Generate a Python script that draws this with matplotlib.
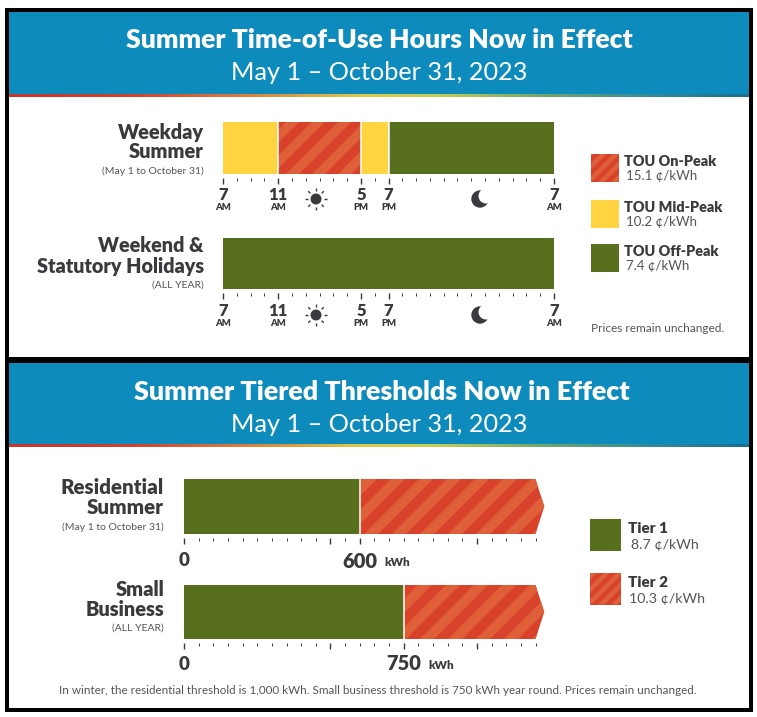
import numpy as np
import matplotlib
matplotlib.use("Agg")
import matplotlib.pyplot as plt
from matplotlib.patches import Rectangle, Circle, Polygon
from matplotlib.colors import LinearSegmentedColormap

# ---------- data ----------
hours_ticks_major = [0, 4, 10, 12, 24]
hour_labels = ["7", "11", "5", "7", "7"]
hour_suffix = ["AM", "AM", "PM", "PM", "AM"]
weekday_segments = [(0, 4, "mid"), (4, 10, "on"), (10, 12, "mid"), (12, 24, "off")]
weekend_segments = [(0, 24, "off")]
residential_threshold = 600
business_threshold = 750
kwh_end = 1200
kwh_major = [0, 500, 600, 1000]
business_major = [0, 500, 750, 1000]
tou_names = ["TOU On-Peak", "TOU Mid-Peak", "TOU Off-Peak"]
tou_prices = ["15.1 ¢/kWh", "10.2 ¢/kWh", "7.4 ¢/kWh"]
tier_names = ["Tier 1", "Tier 2"]
tier_prices = ["8.7 ¢/kWh", "10.3 ¢/kWh"]

RED, STRIPE, YEL, GRN, BLUE, DARK, GREY = "#D8412A", "#DF6038", "#FFD440", "#586F1E", "#0C8BBC", "#3A3A3C", "#555558"
W, H = 757, 717
FONT = "Lato"

fig = plt.figure(figsize=(W / 100, H / 100), dpi=100, facecolor="white")
bg = fig.add_axes([0, 0, 1, 1])
bg.set_xlim(0, W); bg.set_ylim(H, 0); bg.axis("off")


def txt(x, y, s, size, bold=False, color=DARK, ha="left"):
    bg.text(x, y, s, fontsize=size, family=FONT, color=color, ha=ha, va="center",
            fontweight="heavy" if bold else "normal", zorder=6)


def stripes(ax, patch, x0, x1, y0, y1, period, width):
    n0 = x0 - (y1 - y0) - period
    for sx in np.arange(n0 - (n0 % period), x1 + period, period):
        poly = Polygon([(sx, y1), (sx + width, y1), (sx + width + (y1 - y0), y0), (sx + (y1 - y0), y0)],
                       closed=True, fc=STRIPE, ec="none", transform=bg.transData, zorder=patch.get_zorder() + 0.1)
        ax.add_patch(poly)
        poly.set_clip_box(None)
        poly.set_clip_path(patch)


def inset(px0, px1, py0, py1, xlim):
    ax = fig.add_axes([px0 / W, 1 - py1 / H, (px1 - px0) / W, (py1 - py0) / H])
    ax.set_xlim(*xlim); ax.set_ylim(0, 1)
    ax.patch.set_alpha(0)
    for s in ["top", "left", "right"]:
        ax.spines[s].set_visible(False)
    ax.spines["bottom"].set_position(("outward", 3.2))
    ax.spines["bottom"].set_visible(False)
    ax.set_yticks([])
    return ax


# frames and headers
bg.add_patch(Rectangle((5, 8), 748, 704, fc="black", ec="none", zorder=1))
grad = LinearSegmentedColormap.from_list(
    "g", [(0, "#C8352F"), (0.16, "#CF4030"), (0.32, "#D9803F"), (0.48, "#DDCB4B"), (0.58, "#C2CE55"),
          (0.72, "#6FA86F"), (0.88, "#2E88A0"), (1, "#19708F")])
for (top, hb, bot) in [(12, 94, 357), (363, 444, 708)]:
    bg.add_patch(Rectangle((9, top), 740, bot - top, fc="white", ec="none", zorder=2))
    bg.add_patch(Rectangle((9, top), 740, hb - top, fc=BLUE, ec="none", zorder=3))
    bg.imshow(np.linspace(0, 1, 256)[None, :], cmap=grad, extent=(9, 749, hb + 3, hb), aspect="auto", zorder=3)
bg.set_xlim(0, W); bg.set_ylim(H, 0)

txt(379, 40, "Summer Time-of-Use Hours Now in Effect", 19.2, True, "white", "center")
txt(379, 72.5, "May 1 – October 31, 2023", 18.2, False, "white", "center")
txt(382, 392, "Summer Tiered Thresholds Now in Effect", 19.4, True, "white", "center")
txt(379, 424.5, "May 1 – October 31, 2023", 18.2, False, "white", "center")

# row labels
for x, y, a, b, c, sz in [(204, 132, "Weekday", "Summer", "(May 1 to October 31)", 14.3),
                          (204, 246, "Weekend &", "Statutory Holidays", "(ALL YEAR)", 14.2),
                          (164, 488, "Residential", "Summer", "(May 1 to October 31)", 14.8),
                          (164, 589, "Small", "Business", "(ALL YEAR)", 14.4)]:
    txt(x, y, a, sz, True, ha="right")
    txt(x, y + 20, b, sz, True, ha="right")
    txt(x, y + 39.5, c, 7.45, color=GREY, ha="right")


def sun(cx, cy):
    bg.add_patch(Circle((cx, cy), 5.5, fc=DARK, ec="none", zorder=6))
    for a in np.arange(0, 360, 45):
        c, s = np.cos(np.radians(a)), np.sin(np.radians(a))
        bg.plot([cx + 8 * c, cx + 11 * c], [cy + 8 * s, cy + 11 * s], color=DARK, lw=1, zorder=6, solid_capstyle="butt")


def moon(cx, cy):
    bg.add_patch(Circle((cx, cy), 8.7, fc=DARK, ec="none", zorder=6))
    bg.add_patch(Circle((cx + 6, cy - 3), 7.5, fc="white", ec="none", zorder=6.5))


# TOU rows
for segs, (py0, py1), lab_y in [(weekday_segments, (122, 174), 195), (weekend_segments, (238, 289), 311)]:
    ax = inset(223, 554, py0, py1, (0, 24))
    colors = {"mid": YEL, "off": GRN, "on": RED}
    for a, b, k in segs:
        bar = ax.barh(0.5, b - a, left=a, height=1, color=colors[k], ec="none", zorder=2)[0]
        if k == "on":
            px = lambda h: 223 + h * 331 / 24
            stripes(ax, bar, px(a), px(b), py0, py1, 26, 13)
    for a, b, k in segs[1:]:
        ax.axvline(a, color="white", lw=1.1, zorder=4)
    ax.set_xticks(hours_ticks_major)
    ax.set_xticks(np.arange(0, 25), minor=True)
    ax.tick_params(axis="x", which="major", length=4.3, width=1, color=DARK, labelbottom=False)
    ax.tick_params(axis="x", which="minor", length=2, width=0.7, color=DARK)
    for h, l, sfx in zip(hours_ticks_major, hour_labels, hour_suffix):
        px_x = 223 + h * 331 / 24
        txt(px_x, lab_y, l, 12, True, ha="center")
        txt(px_x, lab_y + 12, sfx, 6.8, True, ha="center")
    sun(316, lab_y + 4)
    moon(480, lab_y + 4)

# Tier rows
for thr, major, (py0, py1), lab_y in [(residential_threshold, kwh_major, (479, 534), 561),
                                      (business_threshold, business_major, (585, 639), 664)]:
    ax = inset(184, 535.5, py0, py1, (0, kwh_end))
    ax.barh(0.5, thr, left=0, height=1, color=GRN, ec="none", zorder=2)
    arrow = Polygon([(thr, 0), (kwh_end, 0), (kwh_end + 30, 0.5), (kwh_end, 1), (thr, 1)], closed=True,
                    fc=RED, ec="none", zorder=2, clip_on=False)
    ax.add_patch(arrow)
    pxt = 184 + thr * 351.5 / kwh_end
    stripes(ax, arrow, pxt, 545, py0, py1, 28, 14)
    ax.axvline(thr, color="white", lw=1.1, zorder=4)
    ax.set_xticks(major)
    ax.set_xticks(np.arange(0, kwh_end + 1, 50), minor=True)
    ax.tick_params(axis="x", which="major", length=4.5, width=1, color=DARK, labelbottom=False)
    ax.tick_params(axis="x", which="minor", length=2, width=0.7, color=DARK)
    txt(184, lab_y, "0", 13.5, True, ha="center")
    txt(pxt, lab_y, str(thr), 14.5, True, ha="center")
    txt(pxt + 24.5, lab_y + 1.5, "kWh", 8.4, True)

# legends
for y, k, n, p in zip([154, 200, 244], ["on", "mid", "off"], tou_names, tou_prices):
    r = Rectangle((591, y), 28, 28, fc={"on": RED, "mid": YEL, "off": GRN}[k], ec="none", zorder=5)
    bg.add_patch(r)
    if k == "on":
        stripes(bg, r, 591, 619, y, y + 28, 13, 6.5)
    txt(624, y + 7, n, 10.4, True)
    txt(626, y + 22, p, 9.5, color=GREY)
txt(591, 328, "Prices remain unchanged.", 8.6, color=GREY)

for y, k, n, p, tx in zip([519, 573], ["t1", "t2"], tier_names, tier_prices, [631, 629]):
    r = Rectangle((590, y), 31, 31.5, fc=GRN if k == "t1" else RED, ec="none", zorder=5)
    bg.add_patch(r)
    if k == "t2":
        stripes(bg, r, 590, 621, y, y + 31.5, 13, 6.5)
    txt(628, y + 9.5, n, 11, True)
    txt(tx, y + 26, p, 10.2, color=GREY)
txt(378, 690, "In winter, the residential threshold is 1,000 kWh. Small business threshold is 750 kWh year round. Prices remain unchanged.",
    8.4, color=GREY, ha="center")

fig.savefig("out.png", dpi=100, facecolor="white")
